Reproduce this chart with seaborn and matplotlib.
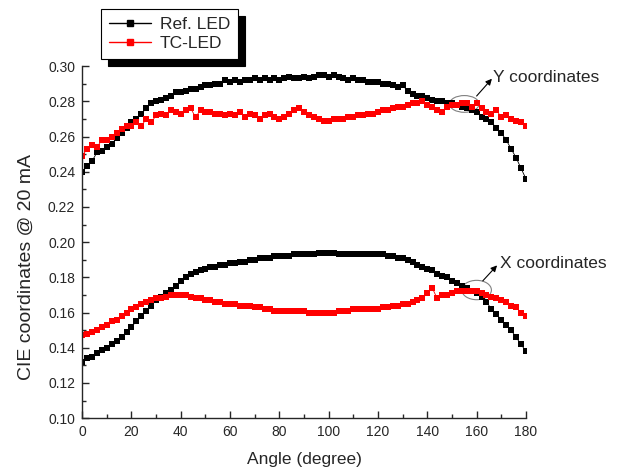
import numpy as np
import pandas as pd
import matplotlib
matplotlib.use("Agg")
import matplotlib.pyplot as plt
from matplotlib.patches import Ellipse
from matplotlib.lines import Line2D
import seaborn as sns

sns.set_style("ticks")
plt.rcParams['font.family'] = ['Liberation Sans', 'DejaVu Sans']

# angle every 2 degrees, 0..180
angle = list(range(0, 181, 2))

ref_y = [0.240, 0.243, 0.246, 0.251, 0.252, 0.254, 0.256, 0.259, 0.262, 0.265,
         0.268, 0.270, 0.273, 0.276, 0.279, 0.280, 0.281, 0.282, 0.283, 0.285,
         0.285, 0.286, 0.287, 0.287, 0.288, 0.289, 0.289, 0.290, 0.290, 0.292,
         0.291, 0.292, 0.291, 0.292, 0.292, 0.293, 0.292, 0.293, 0.292, 0.293,
         0.292, 0.293, 0.294, 0.293, 0.293, 0.294, 0.293, 0.294, 0.295, 0.295,
         0.294, 0.295, 0.294, 0.293, 0.292, 0.293, 0.292, 0.292, 0.291, 0.291,
         0.291, 0.290, 0.290, 0.289, 0.288, 0.289, 0.286, 0.284, 0.283, 0.283,
         0.282, 0.281, 0.280, 0.280, 0.279, 0.279, 0.278, 0.277, 0.276, 0.275,
         0.274, 0.271, 0.270, 0.268, 0.265, 0.262, 0.258, 0.253, 0.248, 0.242,
         0.236]

tc_y = [0.249, 0.253, 0.255, 0.254, 0.258, 0.258, 0.260, 0.262, 0.264, 0.266,
        0.266, 0.268, 0.266, 0.270, 0.268, 0.272, 0.273, 0.272, 0.275, 0.274,
        0.273, 0.275, 0.276, 0.271, 0.275, 0.274, 0.274, 0.273, 0.273, 0.272,
        0.273, 0.272, 0.274, 0.271, 0.273, 0.272, 0.270, 0.272, 0.273, 0.271,
        0.270, 0.271, 0.273, 0.275, 0.276, 0.274, 0.272, 0.271, 0.270, 0.269,
        0.269, 0.270, 0.270, 0.270, 0.271, 0.271, 0.272, 0.272, 0.273, 0.273,
        0.274, 0.275, 0.275, 0.276, 0.277, 0.277, 0.278, 0.279, 0.279, 0.280,
        0.278, 0.277, 0.275, 0.274, 0.277, 0.278, 0.278, 0.279, 0.279, 0.277,
        0.279, 0.276, 0.274, 0.273, 0.275, 0.271, 0.272, 0.270, 0.269, 0.268,
        0.266]

ref_x = [0.132, 0.134, 0.135, 0.137, 0.139, 0.140, 0.142, 0.144, 0.146, 0.149,
         0.152, 0.155, 0.158, 0.161, 0.164, 0.167, 0.169, 0.171, 0.173, 0.175,
         0.178, 0.180, 0.182, 0.183, 0.184, 0.185, 0.186, 0.186, 0.187, 0.187,
         0.188, 0.188, 0.189, 0.189, 0.190, 0.190, 0.191, 0.191, 0.191, 0.192,
         0.192, 0.192, 0.192, 0.193, 0.193, 0.193, 0.193, 0.193, 0.194, 0.194,
         0.194, 0.194, 0.193, 0.193, 0.193, 0.193, 0.193, 0.193, 0.193, 0.193,
         0.193, 0.193, 0.192, 0.192, 0.191, 0.191, 0.190, 0.189, 0.187, 0.186,
         0.185, 0.184, 0.182, 0.181, 0.180, 0.178, 0.177, 0.175, 0.174, 0.172,
         0.171, 0.169, 0.166, 0.162, 0.159, 0.156, 0.153, 0.150, 0.146, 0.142,
         0.138]

tc_x = [0.147, 0.148, 0.149, 0.150, 0.152, 0.153, 0.155, 0.156, 0.158, 0.160,
        0.162, 0.163, 0.165, 0.166, 0.167, 0.168, 0.168, 0.169, 0.170, 0.170,
        0.170, 0.170, 0.169, 0.168, 0.168, 0.167, 0.167, 0.166, 0.166, 0.165,
        0.165, 0.165, 0.164, 0.164, 0.164, 0.163, 0.163, 0.162, 0.162, 0.161,
        0.161, 0.161, 0.161, 0.161, 0.161, 0.161, 0.160, 0.160, 0.160, 0.160,
        0.160, 0.160, 0.161, 0.161, 0.161, 0.162, 0.162, 0.162, 0.162, 0.162,
        0.162, 0.163, 0.163, 0.164, 0.164, 0.165, 0.165, 0.166, 0.167, 0.168,
        0.171, 0.174, 0.168, 0.170, 0.170, 0.171, 0.172, 0.172, 0.172, 0.172,
        0.172, 0.171, 0.170, 0.169, 0.168, 0.167, 0.166, 0.164, 0.163, 0.160,
        0.158]

df = pd.DataFrame({"angle": angle, "ref_y": ref_y, "tc_y": tc_y,
                   "ref_x": ref_x, "tc_x": tc_x})

fig = plt.figure(figsize=(6.18, 4.72), dpi=100)
ax = fig.add_axes([0.133, 0.114, 0.718, 0.746])

style = dict(marker="s", markersize=4.3, markeredgewidth=0, linewidth=0.6)
sns.lineplot(data=df, x="angle", y="ref_y", color="black", ax=ax, **style)
sns.lineplot(data=df, x="angle", y="ref_x", color="black", ax=ax, **style)
sns.lineplot(data=df, x="angle", y="tc_y", color="red", ax=ax, **style)
sns.lineplot(data=df, x="angle", y="tc_x", color="red", ax=ax, **style)

ax.set_xlim(0, 180)
ax.set_ylim(0.10, 0.30)
ax.set_xticks(range(0, 181, 20))
ax.set_xticks(range(10, 181, 20), minor=True)
ax.set_yticks(np.round(np.arange(0.10, 0.301, 0.02), 2))
ax.set_yticks(np.round(np.arange(0.11, 0.30, 0.02), 2), minor=True)
ax.yaxis.set_major_formatter(matplotlib.ticker.FormatStrFormatter("%.2f"))
ax.tick_params(direction="in", length=5, width=1, labelsize=10, pad=5)
ax.tick_params(which="minor", direction="in", length=3, width=1)
sns.despine(ax=ax)
for s in ["left", "bottom"]:
    ax.spines[s].set_linewidth(1)

ax.set_xlabel("Angle (degree)", fontsize=12.5, labelpad=9)
ax.set_ylabel("CIE coordinates @ 20 mA", fontsize=14)
ax.yaxis.set_label_coords(-0.106, 0.43)

# ellipses and arrows pointing to labels
ax.add_patch(Ellipse((155, 0.2785), 12, 0.0095, fill=False, color="gray", lw=0.8))
ax.add_patch(Ellipse((160, 0.1728), 12, 0.011, fill=False, color="gray", lw=0.8))
arrow = dict(arrowstyle="-|>", color="black", lw=0.8,
             shrinkA=0, shrinkB=0, mutation_scale=9)
ax.annotate("", xy=(166.2, 0.2928), xytext=(160, 0.2830), arrowprops=arrow)
ax.annotate("", xy=(168.3, 0.1868), xytext=(162.5, 0.1780), arrowprops=arrow)
ax.text(166.5, 0.2937, "Y coordinates", fontsize=12.5, ha="left", va="center")
ax.text(169.5, 0.1878, "X coordinates", fontsize=12.5, ha="left", va="center")

# legend above top-left
handles = [Line2D([], [], color="black", marker="s", markersize=4, lw=1),
           Line2D([], [], color="red", marker="s", markersize=4, lw=1)]
leg = fig.legend(handles, ["Ref. LED", "TC-LED"], loc="upper left",
                 bbox_to_anchor=(0.164, 0.98), fontsize=12.5, frameon=True,
                 fancybox=False, shadow={"color": "black", "alpha": 1, "ox": 5, "oy": -5},
                 handlelength=2.4, handletextpad=0.5, borderpad=0.45,
                 borderaxespad=0, labelspacing=0.2, edgecolor="black")
leg.get_frame().set_linewidth(0.8)

fig.savefig("out.png", dpi=100)
